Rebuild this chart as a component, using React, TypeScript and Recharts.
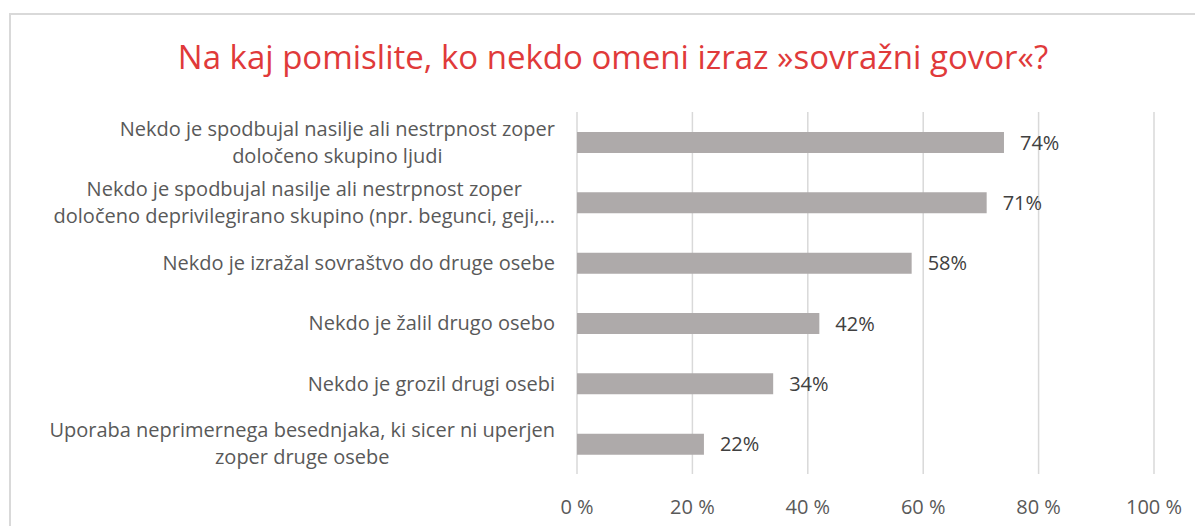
import React from 'react';
import { BarChart, Bar, XAxis, YAxis, CartesianGrid, LabelList } from 'recharts';

const categories = [
  'Nekdo je spodbujal nasilje ali nestrpnost zoper\ndoločeno skupino ljudi',
  'Nekdo je spodbujal nasilje ali nestrpnost zoper\ndoločeno deprivilegirano skupino (npr. begunci, geji,…',
  'Nekdo je izražal sovraštvo do druge osebe',
  'Nekdo je žalil drugo osebo',
  'Nekdo je grozil drugi osebi',
  'Uporaba neprimernega besednjaka, ki sicer ni uperjen\nzoper druge osebe',
];
const values = [74, 71, 58, 42, 34, 22];
const xTicks = [0, 20, 40, 60, 80, 100];
const title = 'Na kaj pomislite, ko nekdo omeni izraz »sovražni govor«?';

const data = categories.map((name, i) => ({ name, value: values[i] }));

const FONT = '"Open Sans", sans-serif';
const LABEL_SIZE = 20;

let ctx: CanvasRenderingContext2D | null = null;
const measure = (s: string) => {
  if (!ctx) ctx = document.createElement('canvas').getContext('2d');
  if (!ctx) return s.length * 9;
  ctx.font = `${LABEL_SIZE}px ${FONT}`;
  return ctx.measureText(s).width;
};

const CategoryTick = (props: any) => {
  const { x, y, payload } = props;
  const lines: string[] = String(payload.value).split('\n');
  const w = Math.max(...lines.map(measure));
  const right = x - 14;
  const cx = right - w / 2;
  const lh = 27;
  const y0 = y - ((lines.length - 1) * lh) / 2;
  return (
    <text textAnchor="middle" fill="#595959" fontSize={LABEL_SIZE} fontFamily={FONT}>
      {lines.map((l, i) => (
        <tspan key={i} x={cx} y={y0 + i * lh} dy="0.35em">
          {l}
        </tspan>
      ))}
    </text>
  );
};

export default function App() {
  return (
    <div style={{ position: 'relative', width: 1195, height: 518 }}>
      <div
        style={{
          position: 'absolute',
          left: 1,
          top: 5,
          width: 1220,
          height: 540,
          border: '2px solid #d9d9d9',
          boxSizing: 'border-box',
        }}
      />
      <div
        style={{
          position: 'absolute',
          left: 0,
          top: 27,
          width: 1210,
          textAlign: 'center',
          color: '#e03a3a',
          fontFamily: FONT,
          fontSize: 33,
          lineHeight: '44px',
        }}
      >
        {title}
      </div>
      <div style={{ position: 'absolute', left: 0, top: 0 }}>
        <BarChart
          width={1195}
          height={518}
          data={data}
          layout="vertical"
          margin={{ top: 104, right: 49, bottom: 20, left: 0 }}
          barCategoryGap={20}
        >
          <CartesianGrid horizontal={false} stroke="#d9d9d9" strokeWidth={1.5} />
          <XAxis
            type="number"
            domain={[0, 100]}
            ticks={xTicks}
            tickFormatter={(v: number) => `${v} %`}
            axisLine={false}
            tickLine={false}
            height={32}
            tick={{ fill: '#595959', fontSize: 20, fontFamily: FONT }}
            tickMargin={20}
          />
          <YAxis
            type="category"
            dataKey="name"
            width={569}
            axisLine={false}
            tickLine={false}
            tick={<CategoryTick />}
            interval={0}
          />
          <Bar dataKey="value" fill="#aeaaaa" barSize={21} isAnimationActive={false}>
            <LabelList
              dataKey="value"
              position="right"
              offset={16}
              formatter={(v: any) => `${v}%`}
              fill="#404040"
              fontSize={20}
              fontFamily={FONT}
            />
          </Bar>
        </BarChart>
      </div>
    </div>
  );
}
